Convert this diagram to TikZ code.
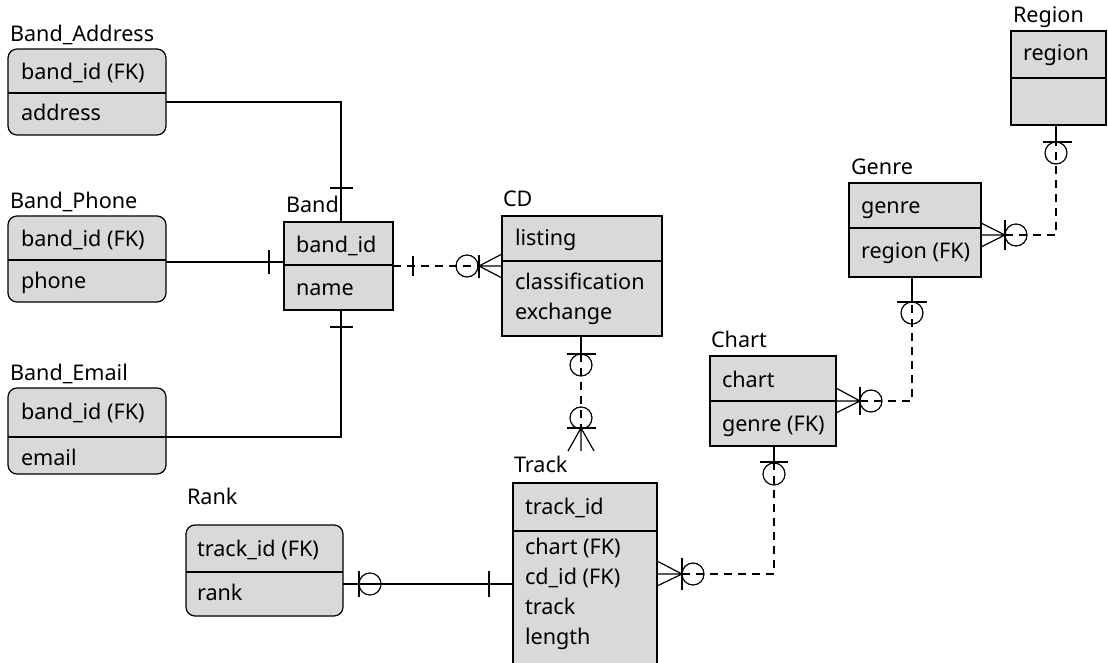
\documentclass[tikz,border=0pt]{standalone}
\usepackage{fontspec}
\setmainfont{Noto Sans}
\definecolor{boxgray}{RGB}{217,217,217}
\begin{document}
\begin{tikzpicture}[x=1pt,y=-1pt, line width=1.2pt,
 box/.style={draw=black, fill=boxgray, anchor=north west, inner sep=0pt, outer sep=0pt},
 rbox/.style={box, rounded corners=9pt},
 lbl/.style={anchor=base west, inner sep=0pt, outer sep=0pt, font=\fontsize{21.6}{26}\selectfont},
 dsh/.style={dash pattern=on 8pt off 6pt},
 ring/.style={draw, circle, minimum size=22pt, inner sep=0pt, outer sep=0pt}
]
\useasboundingbox (0,0) rectangle (1108,663);

% ---------- boxes ----------
\node[rbox, minimum width=158pt, minimum height=86pt] (ba) at (8,49) {};
\node[rbox, minimum width=158pt, minimum height=86pt] (bp) at (8,216) {};
\node[rbox, minimum width=158pt, minimum height=86pt] (be) at (8,388) {};
\node[box, minimum width=109pt, minimum height=88pt] (band) at (284,222) {};
\node[box, minimum width=160pt, minimum height=120pt] (cd) at (502,216) {};
\node[box, minimum width=95pt, minimum height=94pt] (region) at (1011,31) {};
\node[box, minimum width=132pt, minimum height=94pt] (genre) at (849,183) {};
\node[box, minimum width=126pt, minimum height=90pt] (chart) at (710,356) {};
\node[box, minimum width=144pt, minimum height=200pt] (track) at (513,483) {};
\node[rbox, minimum width=157pt, minimum height=91pt] (rank) at (186,525) {};

% ---------- dividers ----------
\draw[line width=2.2pt] (ba.west |- 0,93) -- (ba.east |- 0,93);
\draw (bp.west |- 0,260) -- (bp.east |- 0,260);
\draw (be.west |- 0,437) -- (be.east |- 0,437);
\draw (band.west |- 0,265) -- (band.east |- 0,265);
\draw (cd.west |- 0,261) -- (cd.east |- 0,261);
\draw (region.west |- 0,78) -- (region.east |- 0,78);
\draw (genre.west |- 0,228) -- (genre.east |- 0,228);
\draw (chart.west |- 0,401) -- (chart.east |- 0,401);
\draw (track.west |- 0,531) -- (track.east |- 0,531);
\draw (rank.west |- 0,572) -- (rank.east |- 0,572);

% ---------- titles ----------
\node[lbl] (ba-t) at (10,42) {Band\_Address};
\node[lbl] (bp-t) at (10,208) {Band\_Phone};
\node[lbl] (be-t) at (10,380) {Band\_Email};
\node[lbl] (band-t) at (286,213) {Band};
\node[lbl] (cd-t) at (503,207) {CD};
\node[lbl] (region-t) at (1013,23) {Region};
\node[lbl] (genre-t) at (851,175) {Genre};
\node[lbl] (chart-t) at (711,347) {Chart};
\node[lbl] (track-t) at (514,472) {Track};
\node[lbl] (rank-t) at (187,504) {Rank};

% ---------- attributes ----------
\node[lbl] (ba-1) at (21,80) {band\_id (FK)};
\node[lbl] (ba-2) at (21,121) {address};
\node[lbl] (bp-1) at (21,247) {band\_id (FK)};
\node[lbl] (bp-2) at (21,288) {phone};
\node[lbl] (be-1) at (21,419) {band\_id (FK)};
\node[lbl] (be-2) at (21,465) {email};
\node[lbl] (band-1) at (296,252) {band\_id};
\node[lbl] (band-2) at (296,295) {name};
\node[lbl] (cd-1) at (515,245) {listing};
\node[lbl] (cd-2) at (515,289) {classification};
\node[lbl] (cd-3) at (515,319) {exchange};
\node[lbl] (region-1) at (1023,61) {region};
\node[lbl] (genre-1) at (861,214) {genre};
\node[lbl] (genre-2) at (861,258) {region (FK)};
\node[lbl] (chart-1) at (722,387) {chart};
\node[lbl] (chart-2) at (722,431) {genre (FK)};
\node[lbl] (track-1) at (525,514) {track\_id};
\node[lbl] (track-2) at (525,554) {chart (FK)};
\node[lbl] (track-3) at (525,584) {cd\_id (FK)};
\node[lbl] (track-4) at (525,614) {track};
\node[lbl] (track-5) at (525,644) {length};
\node[lbl] (rank-1) at (197,556) {track\_id (FK)};
\node[lbl] (rank-2) at (197,600) {rank};

% ---------- Band_Address -- Band ----------
\draw (ba.east |- 0,102) -| (341,0 |- band.north);
\draw (330,188) -- (353,188);
% ---------- Band_Phone -- Band ----------
\draw (bp.east |- 0,262) -- (band.west |- 0,262);
\draw (269,250) -- (269,274);
% ---------- Band_Email -- Band ----------
\draw (be.east |- 0,437) -| (341,0 |- band.south);
\draw (330,327) -- (353,327);

% ---------- Band -- CD ----------
\coordinate (v1) at (479,266);
\draw[dsh] (band.east |- 0,266) -- (v1);
\draw (413,256) -- (413,276);
\node[ring] (r1) at (467,266) {};
\draw (479,255) -- (479,278);
\draw (v1) -- (cd.west |- 0,254) (v1) -- (cd.west |- 0,266) (v1) -- (cd.west |- 0,278);

% ---------- CD -- Track ----------
\coordinate (v2) at (581,428);
\draw (cd.south -| 581,0) -- (581,354);
\draw (567,354) -- (596,354);
\node[ring] (r2) at (581,365) {};
\draw[dsh] (581,354) -- (v2);
\node[ring] (r3) at (581,418) {};
\draw (567,428) -- (596,428);
\draw (v2) -- (568,451) (v2) -- (581,451) (v2) -- (594,451);

% ---------- Rank -- Track ----------
\draw (rank.east |- 0,584) -- (track.west |- 0,584);
\draw (359,571) -- (359,597);
\node[ring] (r4) at (370,584) {};
\draw (489,571) -- (489,597);

% ---------- Track -- Chart ----------
\coordinate (v3) at (682,574);
\draw (v3) -- (track.east |- 0,561) (v3) -- (track.east |- 0,574) (v3) -- (track.east |- 0,586);
\draw (682,558) -- (682,590);
\node[ring] (r5) at (693,574) {};
\draw[dsh] (v3) -| (774,462);
\draw (774,0 |- chart.south) -- (774,462);
\draw (760,462) -- (788,462);
\node[ring] (r6) at (774,474) {};

% ---------- Chart -- Genre ----------
\coordinate (v4) at (860,401);
\draw (v4) -- (chart.east |- 0,388) (v4) -- (chart.east |- 0,401) (v4) -- (chart.east |- 0,413);
\draw (860,387) -- (860,415);
\node[ring] (r7) at (871,401) {};
\draw[dsh] (v4) -| (912,302);
\draw (912,0 |- genre.south) -- (912,302);
\draw (897,302) -- (927,302);
\node[ring] (r8) at (912,313) {};

% ---------- Genre -- Region ----------
\coordinate (v5) at (1005,235);
\draw (v5) -- (genre.east |- 0,223) (v5) -- (genre.east |- 0,235) (v5) -- (genre.east |- 0,247);
\draw (1005,220) -- (1005,250);
\node[ring] (r9) at (1016,235) {};
\draw[dsh] (v5) -| (1056,142);
\draw (1056,0 |- region.south) -- (1056,142);
\draw (1043,142) -- (1072,142);
\node[ring] (r10) at (1056,153) {};
\end{tikzpicture}
\end{document}
